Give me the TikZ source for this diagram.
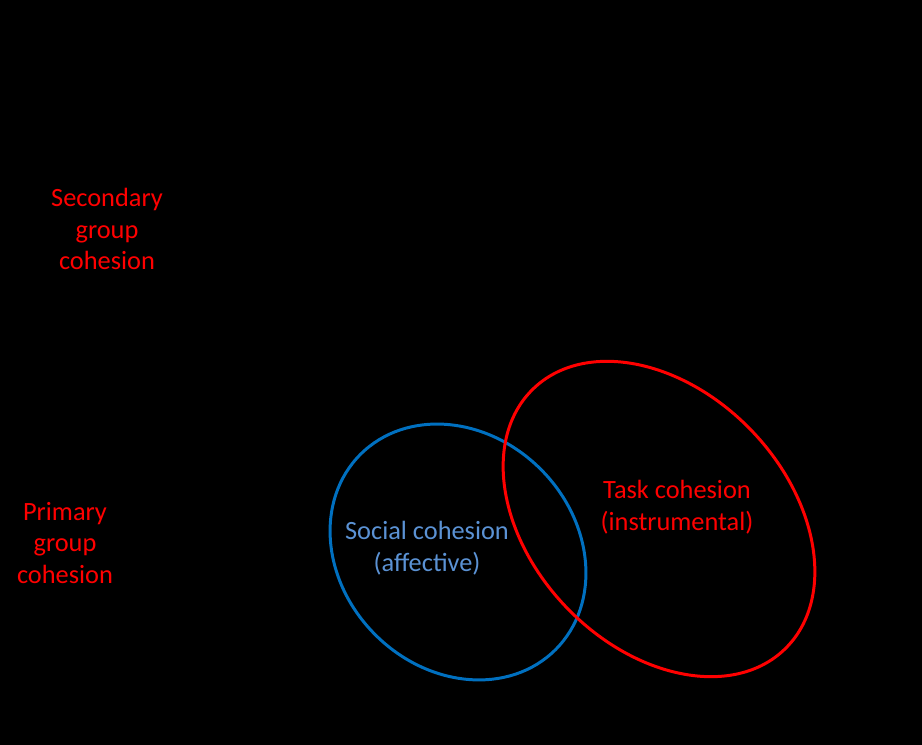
\documentclass[tikz,border=0pt]{standalone}
\usepackage{fontspec}
\setmainfont{Carlito}
\definecolor{socialblue}{RGB}{0,112,192}
\definecolor{sociallabel}{RGB}{91,146,212}
\begin{document}
\begin{tikzpicture}[lbl/.style={align=center, font=\fontsize{15}{18}\selectfont}]
\fill[black] (0,0) rectangle (18.44,14.9);
\draw[socialblue, line width=1.7pt] (9.16,3.86) ellipse [x radius=2.76, y radius=2.34, rotate=-45];
\draw[red, line width=1.7pt] (13.18,4.52) ellipse [x radius=3.62, y radius=2.56, rotate=-46];
\node[lbl, red] (secondary) at (2.14,10.32) {Secondary\\group\\cohesion};
\node[lbl, red] (primary) at (1.30,4.04) {Primary\\group\\cohesion};
\node[lbl, sociallabel] (social) at (8.54,3.94) {Social cohesion\\(affective)};
\node[lbl, red] (task) at (13.54,4.76) {Task cohesion\\(instrumental)};
\end{tikzpicture}
\end{document}
